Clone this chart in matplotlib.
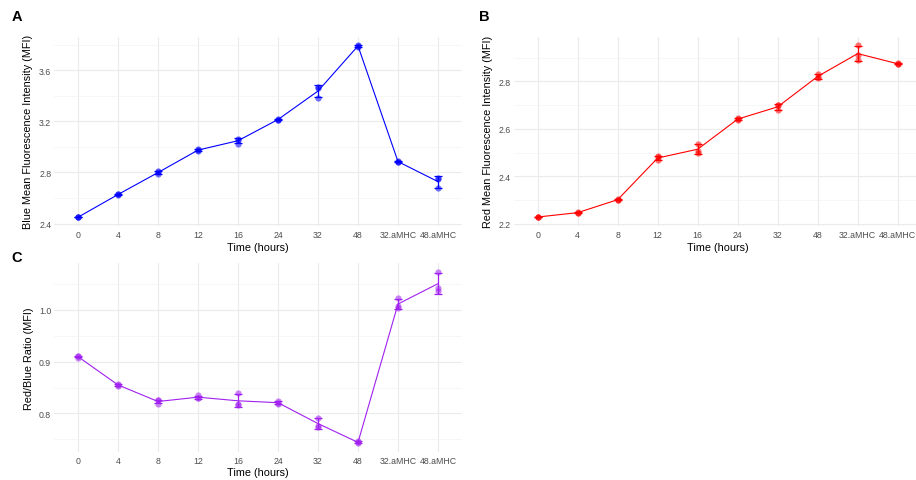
import numpy as np
import matplotlib
matplotlib.use("Agg")
import matplotlib.pyplot as plt
from matplotlib.ticker import FixedLocator

plt.rcParams['font.family'] = ['Liberation Sans', 'DejaVu Sans']

categories = ["0", "4", "8", "12", "16", "24", "32", "48", "32.aMHC", "48.aMHC"]

# replicate values per category (3 replicates each)
blue_mfi = [
    [2.448, 2.450, 2.452],
    [2.625, 2.628, 2.630],
    [2.790, 2.800, 2.808],
    [2.970, 2.975, 2.980],
    [3.065, 3.055, 3.025],
    [3.208, 3.214, 3.220],
    [3.470, 3.460, 3.380],
    [3.784, 3.790, 3.795],
    [2.880, 2.885, 2.890],
    [2.760, 2.750, 2.675],
]
red_mfi = [
    [2.227, 2.229, 2.231],
    [2.245, 2.247, 2.250],
    [2.300, 2.302, 2.304],
    [2.480, 2.484, 2.468],
    [2.538, 2.505, 2.500],
    [2.638, 2.641, 2.644],
    [2.700, 2.700, 2.678],
    [2.832, 2.818, 2.812],
    [2.952, 2.910, 2.888],
    [2.872, 2.874, 2.876],
]
ratio = [
    [0.908, 0.910, 0.911],
    [0.853, 0.855, 0.857],
    [0.825, 0.825, 0.819],
    [0.835, 0.829, 0.830],
    [0.839, 0.818, 0.816],
    [0.818, 0.821, 0.823],
    [0.792, 0.776, 0.773],
    [0.742, 0.744, 0.746],
    [1.023, 1.007, 1.004],
    [1.074, 1.042, 1.036],
]

panels = [
    dict(data=blue_mfi, color="#0000FF", ylabel="Blue Mean Fluorescence Intensity (MFI)",
         major=[2.4, 2.8, 3.2, 3.6], minor=[2.6, 3.0, 3.4, 3.8], fmt="{:.1f}", tag="A",
         box=(54, 37.6, 408, 189.5), tagpos=(11.5, 16.8)),
    dict(data=red_mfi, color="#FF0000", ylabel="Red Mean Fluorescence Intensity (MFI)",
         major=[2.2, 2.4, 2.6, 2.8], minor=[2.3, 2.5, 2.7, 2.9], fmt="{:.1f}", tag="B",
         box=(513.7, 37.6, 408, 189.5), tagpos=(479.5, 16.8)),
    dict(data=ratio, color="#A020F0", ylabel="Red/Blue Ratio (MFI)",
         major=[0.8, 0.9, 1.0], minor=[0.75, 0.85, 0.95, 1.05], fmt="{:.1f}", tag="C",
         box=(54, 264, 408, 189), tagpos=(11.5, 258.4)),
]

W, H = 916, 481
fig = plt.figure(figsize=(W / 100, H / 100), dpi=100)
fig.patch.set_facecolor("white")

for p in panels:
    left, top, w, h = p["box"]
    ax = fig.add_axes([left / W, (H - top - h) / H, w / W, h / H])
    ax.set_facecolor("white")
    for s in ax.spines.values():
        s.set_visible(False)
    vals = np.array(p["data"], dtype=float)
    x = np.arange(len(categories))
    means = vals.mean(axis=1)
    sds = vals.std(axis=1, ddof=1)
    col = p["color"]

    # gridlines
    ax.set_axisbelow(True)
    ax.yaxis.set_major_locator(FixedLocator(p["major"]))
    ax.yaxis.set_minor_locator(FixedLocator(p["minor"]))
    ax.set_xticks(x)
    ax.set_xticklabels(categories)
    ax.set_yticklabels([p["fmt"].format(v) for v in p["major"]])
    ax.grid(True, which="major", color="#EBEBEB", linewidth=0.8)
    ax.grid(True, which="minor", axis="y", color="#F4F4F4", linewidth=0.5)
    ax.tick_params(axis="both", which="both", length=0, labelsize=6.3, labelcolor="#4D4D4D")
    ax.tick_params(axis="x", pad=3)
    ax.tick_params(axis="y", pad=2)

    # replicate points
    for i in range(vals.shape[1]):
        ax.scatter(x, vals[:, i], s=20, color=col, alpha=0.55, linewidths=0, zorder=3)
    ax.plot(x, means, color=col, linewidth=0.8, zorder=4)
    ax.errorbar(x, means, yerr=sds, fmt="none", ecolor=col, elinewidth=0.9,
                capsize=2.8, capthick=0.9, zorder=4)

    lo = min(vals.min(), (means - sds).min())
    hi = max(vals.max(), (means + sds).max())
    rng = hi - lo
    ax.set_ylim(lo - 0.05 * rng, hi + 0.05 * rng)
    ax.set_xlim(-0.6, len(categories) - 0.4)

    # axis titles
    fig.text((left + w / 2) / W, 1 - (top + h + 20.5) / H, "Time (hours)",
             ha="center", va="center", fontsize=7.8, color="black")
    fig.text((left - 25.5) / W, 1 - (top + h / 2) / H, p["ylabel"],
             ha="center", va="center", rotation=90, fontsize=7.8, color="black")
    # panel tag
    tx, ty = p["tagpos"]
    fig.text(tx / W, 1 - ty / H, p["tag"], ha="left", va="center",
             fontsize=10.5, fontweight="bold", color="black")

fig.savefig("out.png", dpi=100, facecolor="white")
